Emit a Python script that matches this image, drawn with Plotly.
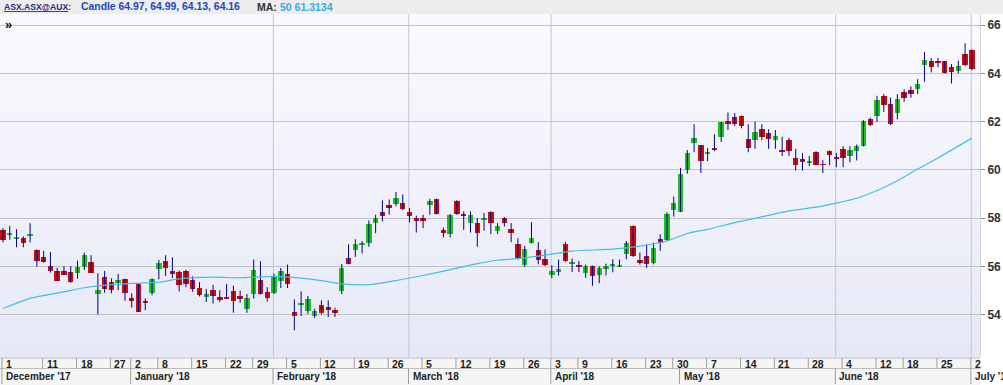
import pandas as pd
import plotly.graph_objects as go

# ---------------- data ----------------
holidays = ["2017-12-25", "2017-12-26", "2018-01-01", "2018-01-26",
            "2018-03-30", "2018-04-02", "2018-04-25", "2018-06-11"]
dates = [d for d in pd.bdate_range("2017-12-01", "2018-07-02")
         if d.strftime("%Y-%m-%d") not in holidays]

opens = [57.51, 57.30, 57.15, 57.17, 57.24, 56.68, 56.39, 56.01, 55.81, 55.82,
         55.76, 55.74, 55.99, 56.18, 54.85, 55.54, 55.33, 55.32, 55.47, 54.68,
         55.25, 54.56, 54.90, 55.88, 56.22, 55.79, 55.75, 55.79, 55.45, 55.10,
         54.72, 55.01, 54.73, 54.73, 54.97, 54.77, 54.24, 54.85, 55.45, 54.92,
         54.90, 55.38, 55.68, 54.11, 54.43, 54.14, 53.96, 54.38, 54.32, 54.18,
         54.97, 56.36, 56.67, 56.90, 56.95, 57.78, 58.27, 58.53, 58.59, 58.63,
         58.25, 58.00, 58.00, 58.55, 58.80, 57.51, 57.33, 58.69, 58.18, 57.79,
         57.79, 57.94, 58.27, 57.48, 58.00, 57.54, 56.92, 56.04, 56.98, 56.66,
         56.32, 55.62, 55.76, 56.92, 56.11, 56.07, 55.72, 56.00, 55.64, 55.89,
         56.01, 55.99, 56.53, 57.68, 56.25, 56.42, 56.14, 57.15, 57.10, 58.34,
         58.27, 60.00, 61.11, 61.01, 60.69, 60.91, 61.36, 62.01, 62.17, 62.24,
         61.26, 61.23, 61.68, 61.54, 61.23, 60.77, 61.22, 60.50, 60.43, 60.31,
         60.73, 60.23, 60.80, 60.53, 60.88, 60.56, 60.77, 60.98, 62.09, 62.23,
         63.04, 62.72, 62.34, 63.23, 63.32, 63.34, 64.36, 64.53, 64.47, 64.50,
         64.25, 64.11, 64.81, 64.97]
highs = [57.58, 57.68, 57.54, 57.24, 57.79, 56.70, 56.64, 56.60, 55.94, 56.01,
         56.01, 56.24, 56.57, 56.46, 55.71, 55.81, 55.50, 55.68, 55.48, 54.88,
         55.26, 54.67, 55.50, 56.26, 56.46, 56.37, 55.83, 55.86, 55.59, 55.34,
         55.06, 55.23, 55.01, 55.27, 55.20, 54.99, 54.85, 56.28, 56.21, 55.13,
         55.69, 55.93, 56.07, 54.63, 54.96, 54.77, 54.24, 54.59, 54.59, 54.28,
         56.10, 56.91, 57.12, 57.05, 57.90, 58.14, 58.73, 58.77, 59.08, 58.98,
         58.42, 58.10, 58.14, 58.80, 58.81, 57.61, 58.17, 58.74, 58.28, 58.28,
         58.00, 58.21, 58.28, 57.79, 58.04, 57.79, 57.16, 56.84, 57.83, 57.00,
         56.70, 56.04, 56.28, 57.02, 56.32, 56.22, 56.07, 56.03, 56.00, 56.11,
         56.29, 56.28, 57.05, 57.69, 56.57, 56.91, 56.98, 57.33, 58.24, 58.89,
         60.08, 60.82, 61.89, 61.02, 60.91, 61.47, 61.99, 62.38, 62.35, 62.25,
         61.89, 62.00, 61.89, 61.68, 61.65, 61.37, 61.33, 60.87, 60.70, 60.57,
         60.77, 60.40, 60.81, 60.70, 60.98, 60.98, 61.05, 62.06, 62.17, 63.07,
         63.14, 63.00, 63.14, 63.34, 63.46, 63.76, 64.88, 64.63, 64.64, 64.51,
         64.39, 64.53, 65.25, 64.99]
lows = [56.99, 57.10, 56.79, 56.79, 56.99, 55.99, 56.15, 55.74, 55.39, 55.64,
        55.32, 55.49, 55.85, 55.72, 54.01, 54.90, 54.88, 55.01, 54.57, 54.29,
        54.11, 54.18, 54.80, 55.46, 55.60, 55.51, 54.96, 55.13, 54.94, 54.75,
        54.52, 54.46, 54.52, 54.64, 54.08, 54.49, 54.07, 54.66, 54.83, 54.54,
        54.85, 55.10, 55.10, 53.35, 53.94, 54.03, 53.86, 54.00, 53.90, 53.90,
        54.85, 56.08, 56.39, 56.53, 56.81, 57.37, 57.86, 58.14, 58.49, 58.32,
        57.82, 57.40, 57.58, 58.14, 58.15, 57.20, 57.20, 58.13, 57.51, 57.40,
        56.81, 57.48, 57.33, 57.34, 57.65, 57.00, 56.28, 55.97, 56.95, 56.08,
        56.01, 55.51, 55.62, 56.17, 55.76, 55.76, 55.52, 55.19, 55.30, 55.62,
        55.75, 55.98, 56.29, 56.39, 56.07, 55.93, 56.08, 56.64, 57.05, 58.06,
        58.25, 59.84, 60.73, 59.87, 60.36, 60.77, 61.15, 61.65, 61.82, 61.72,
        60.73, 60.87, 61.23, 60.87, 60.87, 60.57, 60.57, 59.97, 59.97, 60.15,
        60.19, 59.87, 60.19, 60.11, 60.11, 60.31, 60.39, 60.97, 61.81, 61.98,
        62.40, 61.85, 62.09, 62.82, 62.99, 63.14, 63.65, 64.04, 64.25, 64.00,
        63.58, 64.00, 64.29, 64.13]
closes = [57.10, 57.31, 57.22, 56.96, 57.36, 56.24, 56.18, 55.82, 55.40, 55.65,
          55.35, 55.97, 56.47, 55.74, 55.01, 55.04, 55.03, 55.43, 54.88, 54.57,
          54.12, 54.49, 55.49, 56.13, 55.95, 55.68, 55.21, 55.27, 55.08, 54.79,
          54.86, 54.75, 54.62, 54.66, 54.56, 54.66, 54.69, 55.83, 54.86, 54.70,
          55.58, 55.79, 55.27, 53.94, 54.46, 54.63, 54.14, 54.07, 54.18, 54.07,
          55.95, 56.11, 56.91, 56.93, 57.76, 58.00, 58.07, 58.41, 58.84, 58.38,
          58.07, 57.86, 57.86, 58.69, 58.18, 57.40, 58.14, 58.15, 58.07, 58.14,
          57.40, 58.00, 57.78, 57.68, 57.78, 57.40, 56.36, 56.70, 57.19, 56.25,
          56.04, 55.79, 55.87, 56.21, 56.18, 55.97, 56.00, 55.59, 55.92, 56.00,
          56.10, 56.04, 56.98, 56.42, 56.17, 56.08, 56.74, 56.95, 58.17, 58.62,
          59.84, 60.68, 61.30, 60.36, 60.70, 60.84, 61.98, 61.93, 61.92, 61.82,
          60.91, 61.58, 61.37, 61.29, 61.39, 60.75, 60.77, 60.19, 60.36, 60.38,
          60.22, 60.20, 60.61, 60.46, 60.49, 60.84, 61.00, 62.02, 61.84, 62.89,
          62.68, 61.92, 62.93, 62.99, 63.14, 63.55, 64.56, 64.28, 64.45, 64.01,
          64.07, 64.29, 64.35, 64.16]

# 50-day moving average (trading-day index, value)
ma_idx = [0, 4, 9, 12, 14, 19, 23, 26, 31, 35, 40, 44, 47, 50, 54, 58, 62, 66,
          70, 73, 77, 80, 84, 90, 94, 98, 101, 104, 108, 111, 116, 120, 123,
          126, 129, 132, 135, 138, 143]
ma_vals = [54.25, 54.67, 54.94, 55.11, 55.19, 55.29, 55.34, 55.48, 55.55, 55.52,
           55.58, 55.51, 55.41, 55.27, 55.24, 55.41, 55.62, 55.86, 56.11, 56.25,
           56.35, 56.46, 56.63, 56.71, 56.84, 57.05, 57.36, 57.53, 57.81, 57.99,
           58.30, 58.45, 58.62, 58.82, 59.14, 59.55, 60.03, 60.49, 61.3134]
ma_period = 50

symbol = "ASX.ASX@AUX"
y_ticks = [54, 56, 58, 60, 62, 64, 66]
day_ticks = ["2017-12-01", "2017-12-11", "2017-12-18", "2017-12-27", "2018-01-02",
             "2018-01-08", "2018-01-15", "2018-01-22", "2018-01-29", "2018-02-05",
             "2018-02-12", "2018-02-19", "2018-02-26", "2018-03-05", "2018-03-12",
             "2018-03-19", "2018-03-26", "2018-04-03", "2018-04-09", "2018-04-16",
             "2018-04-23", "2018-04-30", "2018-05-07", "2018-05-14", "2018-05-21",
             "2018-05-28", "2018-06-04", "2018-06-12", "2018-06-18", "2018-06-25",
             "2018-07-02"]
month_starts = ["2017-12-01", "2018-01-02", "2018-02-01", "2018-03-01", "2018-04-03",
                "2018-05-01", "2018-06-01", "2018-07-02"]
month_labels = ["December '17", "January '18", "February '18", "March '18",
                "April '18", "May '18", "June '18", "July '18"]
grid_days = ["2018-02-01", "2018-03-01", "2018-04-03", "2018-06-01", "2018-07-02"]

# ---------------- layout constants ----------------
W, H = 1003, 385
ML, MR, MT, MB = 0, 23, 14, 28
PW = W - ML - MR
PH = H - MT - MB
date_str = [d.strftime("%Y-%m-%d") for d in dates]
idx = {s: i for i, s in enumerate(date_str)}
n = len(dates)
xs = list(range(n))

X_LO, X_HI = -0.443, 144.2
Y_LO, Y_HI = 52.24, 66.46


def px_to_paper_x(px):
    return (px - ML) / PW


def py_to_paper_y(py):
    return (H - MB - py) / PH


fig = go.Figure()

# wicks
wx, wy = [], []
for i in xs:
    wx += [i, i, None]
    wy += [lows[i], highs[i], None]
fig.add_trace(go.Scatter(x=wx, y=wy, mode="lines",
                         line=dict(color="#00008B", width=1),
                         hoverinfo="skip", showlegend=False))

# bodies
up_x, up_b, up_h, dn_x, dn_b, dn_h = [], [], [], [], [], []
for i in xs:
    o, c = opens[i], closes[i]
    b = min(o, c)
    h = max(abs(c - o), 0.04)
    if c >= o:
        up_x.append(i); up_b.append(b); up_h.append(h)
    else:
        dn_x.append(i); dn_b.append(b); dn_h.append(h)
fig.add_trace(go.Bar(x=up_x, y=up_h, base=up_b, width=0.8,
                     marker=dict(color="#1EC31E", line=dict(width=0)),
                     showlegend=False))
fig.add_trace(go.Bar(x=dn_x, y=dn_h, base=dn_b, width=0.8,
                     marker=dict(color="#C80F0F", line=dict(width=0)),
                     showlegend=False))

# moving average
fig.add_trace(go.Scatter(x=ma_idx, y=ma_vals, mode="lines",
                         line=dict(color="#45BDE8", width=1.2, shape="spline",
                                   smoothing=0.6),
                         hoverinfo="skip", showlegend=False))

shapes = []
# plot background gradient (top -> bottom)
top_c = (250, 250, 254)
bot_c = (230, 232, 246)
nb = 24
for k in range(nb):
    t = (k + 0.5) / nb
    col = tuple(int(round(top_c[j] + (bot_c[j] - top_c[j]) * t)) for j in range(3))
    shapes.append(dict(type="rect", xref="paper", yref="paper",
                       x0=0, x1=1, y0=1 - (k + 1) / nb, y1=1 - k / nb,
                       fillcolor="rgb(%d,%d,%d)" % col, line=dict(width=0),
                       layer="below"))
# vertical month gridlines
for s in grid_days:
    i = idx[s]
    shapes.append(dict(type="line", xref="x", yref="paper", x0=i - 0.1, x1=i - 0.1,
                       y0=0, y1=1, line=dict(color="#C4C4CC", width=1),
                       layer="below"))
# header band
shapes.append(dict(type="rect", xref="paper", yref="paper", x0=0,
                   x1=px_to_paper_x(W), y0=1, y1=py_to_paper_y(0),
                   fillcolor="#EDEDED", line=dict(width=0)))
# bottom strip
shapes.append(dict(type="rect", xref="paper", yref="paper", x0=0, x1=1,
                   y0=py_to_paper_y(H), y1=py_to_paper_y(357.5),
                   fillcolor="#F5F5F5", line=dict(width=0)))
for yy in (358, 368.5):
    shapes.append(dict(type="line", xref="paper", yref="paper", x0=0, x1=1,
                       y0=py_to_paper_y(yy), y1=py_to_paper_y(yy),
                       line=dict(color="#BDBDBD", width=1)))
for s in day_ticks:
    i = idx[s]
    shapes.append(dict(type="line", xref="x", yref="paper", x0=i - 0.15, x1=i - 0.15,
                       y0=py_to_paper_y(358), y1=py_to_paper_y(368.5),
                       line=dict(color="#9E9E9E", width=1)))
for s in month_starts:
    i = idx[s]
    shapes.append(dict(type="line", xref="x", yref="paper", x0=i - 0.15, x1=i - 0.15,
                       y0=py_to_paper_y(368.5), y1=py_to_paper_y(384),
                       line=dict(color="#9E9E9E", width=1)))

ann = []
FONT = "Liberation Sans"
for s in day_ticks:
    i = idx[s]
    ann.append(dict(x=i, y=py_to_paper_y(363.5), xref="x", yref="paper",
                    text="<b>%d</b>" % dates[i].day, showarrow=False,
                    xanchor="left", yanchor="middle", xshift=1,
                    font=dict(family=FONT, size=10.5, color="#222222")))
for s, lab in zip(month_starts, month_labels):
    i = idx[s]
    ann.append(dict(x=i, y=py_to_paper_y(376.5), xref="x", yref="paper",
                    text="<b>%s</b>" % lab, showarrow=False,
                    xanchor="left", yanchor="middle", xshift=1,
                    font=dict(family=FONT, size=10, color="#222222")))

# header texts
hy = py_to_paper_y(7)
ann.append(dict(x=px_to_paper_x(2), y=hy, xref="paper", yref="paper",
                text="<b><u>%s</u>:</b>" % symbol, showarrow=False,
                xanchor="left", yanchor="middle",
                font=dict(family=FONT, size=8.6, color="#1A2B80")))
ann.append(dict(x=px_to_paper_x(79), y=hy, xref="paper", yref="paper",
                text="<b>Candle %.2f, %.2f, %.2f, %.2f</b>" % (opens[-1], highs[-1], lows[-1], closes[-1]),
                showarrow=False, xanchor="left", yanchor="middle",
                font=dict(family=FONT, size=10.4, color="#2247BD")))
ann.append(dict(x=px_to_paper_x(255), y=hy, xref="paper", yref="paper",
                text="<b>MA:</b>", showarrow=False, xanchor="left", yanchor="middle",
                font=dict(family=FONT, size=10.5, color="#333333")))
ann.append(dict(x=px_to_paper_x(278), y=hy, xref="paper", yref="paper",
                text="<b>%d %.4f</b>" % (ma_period, ma_vals[-1]), showarrow=False,
                xanchor="left", yanchor="middle",
                font=dict(family=FONT, size=10.5, color="#36ABDD")))
ann.append(dict(x=px_to_paper_x(3), y=py_to_paper_y(25), xref="paper", yref="paper",
                text="<b>»</b>", showarrow=False, xanchor="left", yanchor="middle",
                font=dict(family=FONT, size=13, color="#111111")))

fig.update_layout(
    width=W, height=H,
    margin=dict(l=ML, r=MR, t=MT, b=MB, pad=0),
    paper_bgcolor="white",
    plot_bgcolor="rgba(0,0,0,0)",
    barmode="overlay",
    bargap=0,
    showlegend=False,
    shapes=shapes,
    annotations=ann,
    xaxis=dict(range=[X_LO, X_HI], showgrid=False, zeroline=False,
               showticklabels=False, ticks="", fixedrange=True),
    yaxis=dict(range=[Y_LO, Y_HI], side="right", tickvals=y_ticks,
               ticktext=["<b>%d</b>" % v for v in y_ticks],
               showgrid=True, gridcolor="#C2C2C8", gridwidth=1,
               zeroline=False, ticks="outside", ticklen=4, tickcolor="#888888",
               showline=True, linecolor="#D4D4D8", linewidth=1,
               tickfont=dict(family=FONT, size=12, color="#333333"),
               fixedrange=True),
)

fig.write_html("out.html", config={"displayModeBar": False},
               post_script="document.body.style.margin='0';"
                           "document.body.style.overflow='hidden';")
